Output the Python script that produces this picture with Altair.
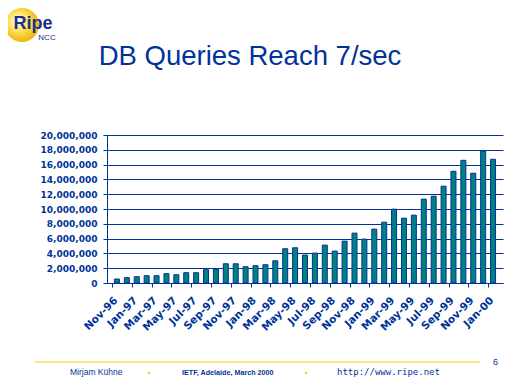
import altair as alt
import pandas as pd

# ---- data -------------------------------------------------------------
months = [
    "Nov-96", "Dec-96",
    "Jan-97", "Feb-97", "Mar-97", "Apr-97", "May-97", "Jun-97",
    "Jul-97", "Aug-97", "Sep-97", "Oct-97", "Nov-97", "Dec-97",
    "Jan-98", "Feb-98", "Mar-98", "Apr-98", "May-98", "Jun-98",
    "Jul-98", "Aug-98", "Sep-98", "Oct-98", "Nov-98", "Dec-98",
    "Jan-99", "Feb-99", "Mar-99", "Apr-99", "May-99", "Jun-99",
    "Jul-99", "Aug-99", "Sep-99", "Oct-99", "Nov-99", "Dec-99",
    "Jan-00",
]
queries = [
    540000, 720000, 850000, 990000, 990000, 1260000, 1120000, 1390000,
    1390000, 1800000, 1890000, 2600000, 2600000, 2200000, 2340000, 2470000,
    3000000, 4630000, 4760000, 3780000, 4040000, 5120000, 4310000, 5660000,
    6740000, 5930000, 7280000, 8220000, 9980000, 8760000, 9170000, 11330000,
    11730000, 13080000, 15100000, 16580000, 14830000, 17840000, 16720000,
]
y_ticks = [0, 2000000, 4000000, 6000000, 8000000, 10000000,
           12000000, 14000000, 16000000, 18000000, 20000000]

title_text = "DB Queries Reach 7/sec"
footer_author = "Mirjam Kühne"
footer_event = "IETF, Adelaide, March 2000"
footer_url = "http://www.ripe.net"
page_number = "6"

BLUE = "#003399"
TEAL = "#008080"
YELLOW = "#ffcc00"

df = pd.DataFrame({"idx": list(range(1, len(months) + 1)),
                   "month": months, "queries": queries})

tick_vals = [i + 0.5 for i in range(0, len(months), 2)]
label_arr = "[" + ",".join("'" + m + "'" for m in months) + "]"

bars = alt.Chart(df).mark_bar(size=5, color=TEAL, stroke=BLUE, strokeWidth=1).encode(
    x=alt.X("idx:Q",
            scale=alt.Scale(domain=[0.5, len(months) + 0.5], nice=False, zero=False),
            axis=alt.Axis(values=tick_vals, title=None, grid=False,
                          labelExpr=label_arr + "[round(datum.value - 0.5)]",
                          labelAngle=315, labelAlign="right", labelBaseline="top",
                          labelFont="DejaVu Sans", labelFontWeight="bold",
                          labelFontSize=10.5, labelColor=BLUE, labelPadding=8,
                          labelOverlap=False, labelFlush=False,
                          domainColor=BLUE, tickColor=BLUE, tickSize=4)),
    y=alt.Y("queries:Q",
            scale=alt.Scale(domain=[0, 20000000], nice=False),
            axis=alt.Axis(values=y_ticks, format=",d", title=None,
                          labelFont="DejaVu Sans", labelFontWeight="bold",
                          labelFontSize=9, labelColor=BLUE, labelPadding=6,
                          domainColor=BLUE, tickColor=BLUE, tickSize=4,
                          gridColor=BLUE, gridWidth=1, gridOpacity=1)),
)

one = alt.Data(values=[{"a": 1}])

def txt(text, x, y, size, weight="normal", align="left", font="Liberation Sans",
        color=BLUE, style="normal"):
    return alt.Chart(one).mark_text(
        text=text, align=align, baseline="alphabetic", font=font,
        fontSize=size, fontWeight=weight, color=color, fontStyle=style,
    ).encode(x=alt.value(x), y=alt.value(y))

title = txt(title_text, 143, -70, 27.5, align="center")

logo = alt.Chart(one).mark_point(
    shape="circle", filled=True, size=1156, opacity=1,
    color=alt.RadialGradient(
        gradient="radial", x1=0.35, y1=0.35, x2=0.45, y2=0.45, r1=0.0, r2=0.6,
        stops=[alt.GradientStop(color="#ffffff", offset=0),
               alt.GradientStop(color="#ffe460", offset=0.45),
               alt.GradientStop(color="#e8b000", offset=1)]),
).encode(x=alt.value(-85), y=alt.value(-110))
logo_ripe = txt("Ripe", -74, -106, 18, weight="bold", align="center", color="#1a2e8c")
logo_ncc = txt("NCC", -60, -95.5, 8, align="center", color="#1a2e8c")

footer_line = alt.Chart(one).mark_rule(color=YELLOW, strokeWidth=1).encode(
    x=alt.value(-72), x2=alt.value(373), y=alt.value(227))
page = txt(page_number, 386, 230, 9)
author = txt(footer_author, -37, 240, 8.5)
event = txt(footer_event, 75, 240, 7.2, weight="bold")
url = txt(footer_url, 230, 240, 9, font="DejaVu Sans Mono")
dots = alt.Chart(alt.Data(values=[{"px": 42}, {"px": 199}])).mark_square(
    color=YELLOW, size=5, opacity=1).encode(x=alt.X("px:Q", scale=None), y=alt.value(238))

chart = alt.layer(
    bars, title, logo, logo_ripe, logo_ncc, footer_line, page, author, event, url, dots
).properties(
    width=396, height=148,
    autosize=alt.AutoSizeParams(type="none"),
    padding={"left": 99, "top": 127, "right": 1, "bottom": 97},
    background="white",
).configure_view(stroke=None)

chart.save("out.html", embed_options={"renderer": "svg", "actions": False})
